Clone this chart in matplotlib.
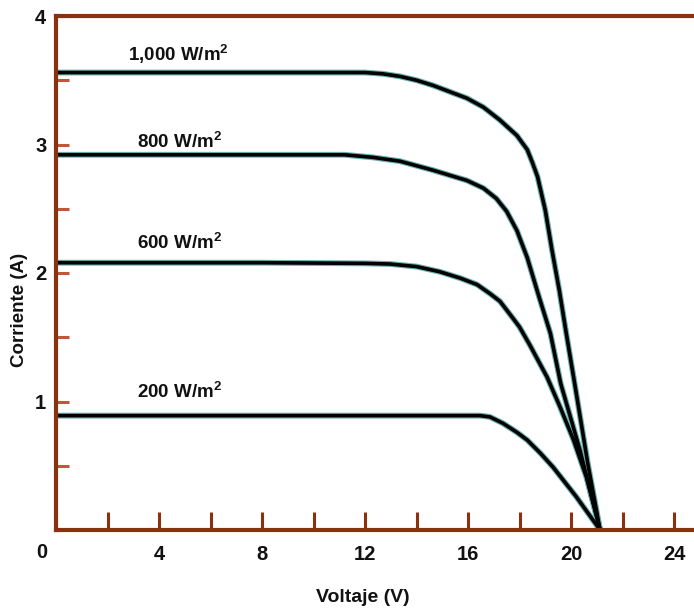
import matplotlib
matplotlib.use("Agg")
import matplotlib.pyplot as plt
import matplotlib.transforms as mtransforms

plt.rcParams['font.family'] = ['Liberation Sans', 'DejaVu Sans']
plt.rcParams['font.weight'] = 'bold'
plt.rcParams['mathtext.fontset'] = 'custom'
plt.rcParams['mathtext.rm'] = 'Liberation Sans:bold'
plt.rcParams['mathtext.it'] = 'Liberation Sans:bold'
plt.rcParams['mathtext.bf'] = 'Liberation Sans:bold'

# ---- data ----
v_1000 = [0, 4, 8, 12, 12.7, 13.36, 14.0, 14.64, 15.3, 15.96, 16.6, 17.24, 17.9, 18.3, 18.5,
          18.7, 19.0, 19.26, 19.55, 19.8, 20.2, 20.65, 21.13]
i_1000 = [3.56, 3.56, 3.56, 3.56, 3.55, 3.53, 3.50, 3.46, 3.41, 3.36, 3.29, 3.19, 3.07, 2.96, 2.86,
          2.75, 2.49, 2.18, 1.86, 1.55, 1.07, 0.52, 0]

v_800 = [0, 4, 8, 11.2, 12.3, 13.36, 14.64, 15.96, 16.6, 17.1, 17.5, 17.9, 18.3, 18.75, 19.2,
         19.6, 20.35, 21.13]
i_800 = [2.92, 2.92, 2.92, 2.92, 2.90, 2.87, 2.80, 2.72, 2.66, 2.58, 2.48, 2.33, 2.12, 1.82, 1.53,
         1.14, 0.62, 0]

v_600 = [0, 4, 8, 12, 12.97, 14.0, 14.9, 15.7, 16.35, 16.85, 17.24, 17.7, 18.0, 18.4, 19.07,
         19.57, 20.1, 20.6, 21.13]
i_600 = [2.08, 2.08, 2.08, 2.075, 2.07, 2.05, 2.01, 1.96, 1.91, 1.84, 1.78, 1.66, 1.58, 1.44, 1.19,
         0.96, 0.70, 0.41, 0]

v_200 = [0, 4, 8, 12, 16.0, 16.47, 16.85, 17.36, 17.9, 18.3, 18.8, 19.3, 20.2, 21.13]
i_200 = [0.89, 0.89, 0.89, 0.89, 0.89, 0.89, 0.88, 0.83, 0.76, 0.70, 0.60, 0.49, 0.26, 0]

curve_labels = ["1,000 W/m$^2$", "800 W/m$^2$", "600 W/m$^2$", "200 W/m$^2$"]
label_pos = [(2.8, 3.65), (3.15, 2.97), (3.15, 2.19), (3.15, 1.03)]

x_major = [0, 4, 8, 12, 16, 20, 24]
x_marks = [2, 6, 10, 14, 18, 22]
y_major = [1, 2, 3, 4]
y_marks = [0.5, 1.5, 2.5, 3.5]

# ---- figure ----
fig = plt.figure(figsize=(6.94, 6.12), dpi=100)
ax = fig.add_axes([56/694, 82/612, (694-56)/694, (530-16)/612])
ax.set_xlim(0, (694-56)/25.75)
ax.set_ylim(0, 4)

brown = '#8a3210'
tickred = '#c4553c'
teal = '#6aaeb0'

for v, i in [(v_1000, i_1000), (v_800, i_800), (v_600, i_600), (v_200, i_200)]:
    ax.plot(v, i, color=teal, lw=4.2, solid_capstyle='butt', solid_joinstyle='round', zorder=2)
    ax.plot(v, i, color='black', lw=2.6, solid_capstyle='butt', solid_joinstyle='round', zorder=3)

for txt, (x, y) in zip(curve_labels, label_pos):
    ax.text(x, y, txt, fontsize=13.5, fontweight='bold', ha='left', va='baseline', color='#111111')

for s in ['left', 'top', 'bottom']:
    ax.spines[s].set_color(brown)
    ax.spines[s].set_linewidth(3.0)
    ax.spines[s].set_zorder(5)
ax.spines['right'].set_visible(False)

ax.set_xticks(x_major)
ax.set_xticklabels([''] + [str(t) for t in x_major[1:]])
ax.set_yticks(y_major)
ax.set_yticklabels([str(t) for t in y_major])
ax.set_xticks(x_marks, minor=True)
ax.set_yticks(y_marks, minor=True)

ax.tick_params(axis='x', which='both', direction='in', length=13, width=2.2, color=brown,
               labelsize=14.5, labelcolor='#111111', pad=11)
ax.tick_params(axis='y', which='both', direction='in', length=9, width=2.2, color=tickred,
               labelsize=14.5, labelcolor='#111111', pad=7)

ax.text(-0.55, -0.026, '0', transform=mtransforms.blended_transform_factory(ax.transData, ax.transAxes),
        fontsize=14.5, fontweight='bold', ha='center', va='top', color='#111111', clip_on=False)

fig.text(20/694, 1 - 310/612, 'Corriente (A)', rotation=90, fontsize=13.5, fontweight='bold',
         ha='center', va='center', color='#111111')
fig.text(363/694, 1 - 598/612, 'Voltaje (V)', fontsize=14, fontweight='bold',
         ha='center', va='center', color='#111111')

fig.savefig('out.png', dpi=100, facecolor='white')
